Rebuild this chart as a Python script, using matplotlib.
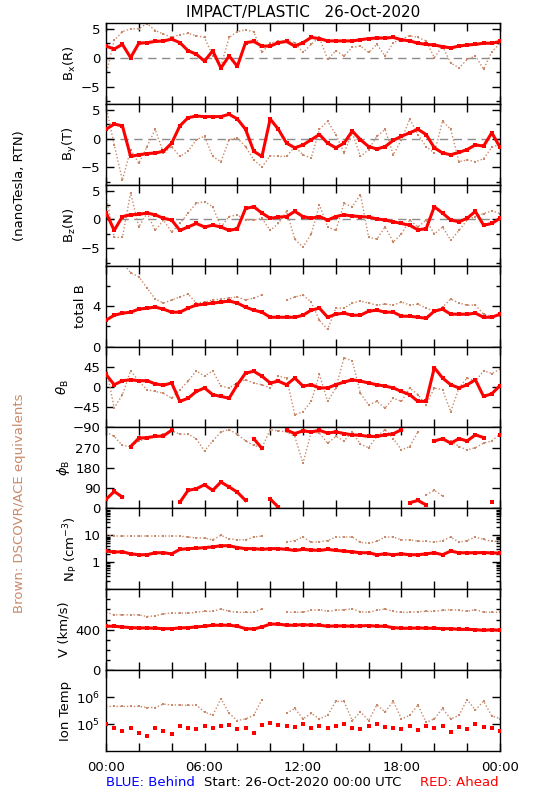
import numpy as np
import matplotlib
matplotlib.use('Agg')
import matplotlib.pyplot as plt
from matplotlib.ticker import MultipleLocator, FixedLocator, NullFormatter, LogLocator

nan = np.nan

# time axis: hours after 26-Oct-2020 00:00 UTC, 30 min steps
hours = np.arange(49) * 0.5

# RED = STEREO Ahead, BROWN = DSCOVR/ACE equivalents
bx_red = [2.0, 1.5, 2.3, 0.0, 2.5, 2.6, 2.8, 2.9, 3.2, 2.6, 1.2, 0.6, -0.6, 1.2, -1.8, 0.3, -1.5, 2.6, 2.8, 2.0, 2.0, 2.6, 2.8,
          2.0, 2.6, 3.5, 3.3, 2.9, 2.9, 2.9, 2.9, 3.1, 3.3, 3.4, 3.4, 3.5, 3.1, 2.9, 2.5, 2.3, 2.2, 1.9, 1.7, 2.0, 2.2, 2.3, 2.5, 2.5, 2.8]
bx_brown = [-3.0, 3.0, 4.5, 5.0, 5.0, 5.9, 4.7, 4.1, 3.5, 4.0, 4.2, 3.8, 3.5, 0.3, -1.5, 3.5, 4.5, 4.8, 4.5, 0.9, 2.5, 2.8, 3.0,
            2.6, 0.9, 2.3, 3.5, -0.3, 1.2, 0.3, 1.8, 2.0, 0.9, 2.3, 0.3, 2.6, 3.2, 3.8, 3.5, 2.9, 0.0, 2.0, -0.9, -1.8, -0.3, 0.3, -2.0, 1.0, 2.5]

by_red = [1.6, 2.5, 2.2, -3.1, -2.8, -2.6, -2.5, -2.2, -0.8, 2.2, 3.6, 3.9, 3.8, 3.8, 3.8, 4.2, 3.4, 1.6, -2.2, -3.1, 3.4, 1.6, -0.8,
          -1.6, -1.1, -0.2, 0.7, -0.8, -1.6, -0.8, 1.3, -0.2, -1.4, -1.8, -1.4, -0.3, 0.4, 1.0, 1.6, 0.7, -1.6, -2.5, -2.8, -2.4, -1.9, -1.1, -1.3, 1.0, -1.5]
by_brown = [5.6, -1.1, -7.2, -1.9, -4.3, -1.4, 1.6, -2.5, -1.4, -3.1, -2.2, -0.2, 0.4, -3.1, -4.0, -0.2, 0.1, -1.4, -3.7, -4.9, -3.0, -3.1, -3.1,
            -1.4, -2.8, -3.4, 1.6, 3.0, 0.7, -2.5, 1.0, -3.1, -1.9, 0.4, 1.6, -2.8, -0.2, 3.4, 0.7, -1.4, -2.5, 3.0, 1.6, -4.0, -3.7, -4.0, -3.5, -1.5, -1.0]

bz_red = [1.2, -1.9, 0.5, 0.8, 0.9, 1.1, 0.8, 0.2, -0.1, -1.9, -1.3, -0.7, -1.3, -1.0, -1.3, -1.9, -1.6, 1.9, 2.2, 1.1, 0.2, 0.4, 0.5,
          1.4, 0.5, 0.2, 0.5, -0.1, 0.5, 0.8, 0.6, 0.5, 0.4, 0.1, -0.1, -0.4, -0.7, -1.0, -1.8, -1.6, 2.2, 1.1, -0.1, -0.4, 0.2, 1.4, -1.0, -0.7, 0.2]
bz_brown = [4.0, -3.1, -3.1, 4.6, -1.3, 1.1, -1.9, -0.1, -2.2, -0.7, 1.1, 2.8, 3.1, 2.2, -1.3, 0.5, 0.8, -0.1, -0.1, 0.2, -1.9, -0.7, 1.4,
            -3.4, -4.8, -2.5, 2.5, -1.3, -1.9, 2.8, 2.2, 4.3, -3.1, -3.4, -1.3, -3.9, -2.5, -0.1, -1.3, -0.1, -2.5, -1.3, -3.6, -1.9, -0.1, 0.5, 1.0, 1.5, 1.0]

bt_red = [2.6, 3.1, 3.3, 3.4, 3.7, 3.8, 3.9, 3.7, 3.4, 3.4, 3.8, 4.1, 4.2, 4.3, 4.4, 4.5, 4.3, 3.9, 3.6, 3.4, 2.9, 2.9, 2.9,
          2.9, 3.1, 3.6, 3.8, 2.9, 3.2, 3.3, 3.1, 3.1, 3.5, 3.6, 3.4, 3.4, 3.0, 3.0, 2.9, 2.8, 3.5, 3.7, 3.2, 3.2, 3.2, 3.3, 2.9, 2.9, 3.2]
bt_brown = [7.8, 8.1, 8.3, 7.3, 6.9, 5.8, 4.7, 4.3, 4.6, 4.9, 5.2, 4.3, 4.4, 4.6, 4.7, 4.8, 4.9, 4.6, 4.8, 5.1, nan, nan, 4.6,
            4.9, 5.1, 4.4, 2.6, 1.7, 3.8, 3.8, 4.3, 4.5, 4.3, 4.1, 4.2, 4.1, 4.4, 4.1, 4.2, 3.8, 3.5, 3.9, 4.7, 4.3, 4.1, 4.1, 3.2, 3.0, 3.0]

theta_red = [28, 5, 14, 16, 14, 14, 7, 4, 9, -32, -25, -10, -2, -17, -21, -25, 5, 31, 35, 24, 9, 13, 5,
             20, 2, 5, -2, -2, 5, 11, 16, 13, 9, 5, 2, -2, -10, -17, -32, -32, 43, 20, 5, -2, 5, 16, -21, -15, 3]
theta_brown = [45, -47, -17, 36, 13, -6, -10, -14, -25, -6, 13, 36, 24, 36, 2, -2, 9, 16, 9, 5, -2, 24, 20,
               -62, -55, -32, 28, -32, -2, 65, 58, -14, -40, -32, -47, -25, -32, -2, -17, -40, -2, -6, -55, -2, 20, 13, 36, 30, 40]

phi_red = [40, 75, 50, 275, 312, 315, 320, 322, 348, 27, 80, 87, 105, 80, 117, 95, 72, 35, 310, 267, 42, 5, 348,
           333, 345, 340, 347, 335, 340, 333, 327, 325, 320, 320, 327, 332, 350, 25, 35, 15, 300, 310, 290, 310, 300, 327, 315, 27, 327]
phi_brown = [340, 320, 280, 275, 300, 310, 320, 330, 345, 330, 330, 310, 255, 300, 340, 350, 330, 300, 280, 270, 350, 345, 340,
             320, 200, 340, 335, 290, 320, 300, 340, 285, 270, 320, 350, 310, 260, 275, 340, 60, 80, 55, 300, 275, 260, 270, 290, 300, 330]

np_red = [2.6, 2.4, 2.45, 2.05, 1.9, 1.9, 2.25, 2.25, 2.05, 3.0, 3.2, 3.3, 3.5, 3.7, 4.1, 4.1, 3.5, 3.2, 3.2, 3.0, 3.2, 3.2, 3.0,
          2.75, 3.0, 2.85, 2.75, 3.0, 2.75, 2.6, 2.45, 2.25, 2.25, 1.9, 2.05, 1.9, 2.05, 1.9, 1.9, 2.05, 2.25, 1.9, 2.6, 2.25, 2.25, 2.25, 2.3, 2.2, 2.2]
np_brown = [10, 9.4, 9.4, 9.4, 9.4, 9.4, 9.4, 9.4, 9.4, 9.4, 8.6, 8.1, 7.9, 6.8, 10, 7.4, 6.8, 6.8, 8.6, 9.4, nan, nan, 5.5,
            6.4, 8.6, 5.5, 5.8, 6.4, 8.6, 8.6, 8.6, 5.5, 5.0, 6.0, 8.6, 8.6, 6.8, 6.8, 6.0, 6.0, 5.5, 6.4, 8.6, 5.5, 6.4, 8.6, 7.0, 6.0, 6.0]

v_red = [434, 434, 427, 420, 417, 417, 414, 410, 410, 417, 420, 427, 434, 444, 444, 444, 434, 410, 407, 427, 455, 455, 444,
         444, 450, 444, 444, 434, 437, 437, 434, 437, 441, 434, 434, 420, 414, 414, 417, 414, 414, 410, 410, 403, 403, 400, 393, 400, 393]
v_brown = [571, 547, 547, 547, 547, 530, 537, 557, 564, 564, 564, 571, 581, 581, 605, 581, 571, 571, 571, 605, nan, nan, 571,
           571, 574, 591, 598, 581, 591, 598, 605, 578, 571, 591, 605, 581, 571, 571, 578, 581, 581, 591, 598, 591, 581, 598, 574, 571, 571]

t_red = [1.0e5, 7.4e4, 5.5e4, 7.4e4, 4.8e4, 3.5e4, 7.4e4, 5.5e4, 4.1e4, 8.7e4, 7.4e4, 6.5e4, 8.7e4, 7.4e4, 8.7e4, 9.1e4, 6.5e4, 7.4e4, 4.8e4, 8.9e4, 1.1e5, 9.1e4, 8.7e4,
         8.1e4, 1.0e5, 7.4e4, 8.7e4, 7.4e4, 8.7e4, 1.0e5, 7.4e4, 6.8e4, 8.7e4, 1.0e5, 8.1e4, 7.4e4, 6.5e4, 8.7e4, 6.0e4, 8.7e4, 7.4e4, 8.7e4, 5.0e4, 8.1e4, 6.8e4, 1.0e5, 7.9e4, 7.1e4, 5.6e4]
t_brown = [4.5e5, 4.5e5, 4.5e5, 4.5e5, 4.5e5, 4.1e5, 4.1e5, 5.5e5, 5.1e5, 5.1e5, 4.9e5, 5.1e5, 2.8e5, 2.1e5, 8.7e5, 2.5e5, 1.35e5, 1.55e5, 2.1e5, 8.1e5, nan, nan, 2.5e5,
           3.8e5, 1.55e5, 2.5e5, 1.55e5, 2.1e5, 6.9e5, 6.9e5, 1.35e5, 2.8e5, 1.35e5, 5.1e5, 2.8e5, 6.9e5, 1.55e5, 2.1e5, 5.1e5, 1.15e5, 1.55e5, 3.8e5, 1.55e5, 2.1e5, 8.1e5, 3.3e5, 7.1e5, 2.0e5, 1.6e5]

xtick_labels = ['00:00', '06:00', '12:00', '18:00', '00:00']

RED = '#ff0000'
BROWN = '#c98a6b'
FS = 9.5

plt.rcParams['font.family'] = ['DejaVu Sans']
plt.rcParams['font.size'] = FS


def break_wrap(x, y):
    # do not connect points across the 360 -> 0 wrap
    xs, ys = [x[0]], [y[0]]
    for i in range(1, len(x)):
        if abs(y[i] - y[i - 1]) > 180:
            xs.append(nan)
            ys.append(nan)
        xs.append(x[i])
        ys.append(y[i])
    return xs, ys


fig = plt.figure(figsize=(5.5, 8), dpi=100)
W, H = 550.0, 800.0
x0, x1 = 106 / W, 500 / W
y_top, y_bot = 23.0, 751.0
ph = (y_bot - y_top) / 9

axes = []
for i in range(9):
    b = 1 - (y_top + (i + 1) * ph) / H
    ax = fig.add_axes([x0, b, x1 - x0, ph / H])
    axes.append(ax)

series = [(bx_brown, bx_red), (by_brown, by_red), (bz_brown, bz_red), (bt_brown, bt_red),
          (theta_brown, theta_red), (phi_brown, phi_red), (np_brown, np_red), (v_brown, v_red), (t_brown, t_red)]

for i, (ax, (yb, yr)) in enumerate(zip(axes, series)):
    if i == 5:
        xb, yb2 = break_wrap(list(hours), yb)
        xr, yr2 = break_wrap(list(hours), yr)
    else:
        xb, yb2, xr, yr2 = hours, yb, hours, yr
    ax.plot(xb, yb2, color=BROWN, lw=1.0, ls=(0, (1, 1.5)), marker='s', ms=1.6, mew=0, zorder=2)
    if i == 8:
        ax.plot(xr, yr2, color=RED, ls='none', marker='s', ms=3, mew=0, zorder=3)
    else:
        ax.plot(xr, yr2, color=RED, lw=2.2, marker='s', ms=2.4, mew=0, zorder=3)
    if i < 3:
        ax.axhline(0, color='#8c8c8c', lw=1, dashes=(6, 4), zorder=1)

    ax.set_xlim(0, 24)
    ax.xaxis.set_major_locator(MultipleLocator(6))
    ax.xaxis.set_minor_locator(MultipleLocator(2))
    ax.tick_params(which='both', direction='in', top=True, right=True, width=1, labelsize=FS, pad=4)
    ax.tick_params(which='major', length=6)
    ax.tick_params(which='minor', length=6, axis='x')
    ax.tick_params(which='minor', length=3, axis='y')
    for s in ax.spines.values():
        s.set_linewidth(1)
    if i < 8:
        ax.xaxis.set_major_formatter(NullFormatter())
    else:
        ax.set_xticks([0, 6, 12, 18, 24])
        ax.set_xticklabels(xtick_labels)
        ax.tick_params(axis='x', pad=7)

# field components
for ax in axes[:3]:
    ax.set_ylim(-8, 6)
    ax.yaxis.set_major_locator(FixedLocator([-5, 0, 5]))
    ax.yaxis.set_minor_locator(FixedLocator([-7.5, -2.5, 2.5]))
    ax.set_yticklabels(['\u22125', '0', '5'])

axes[3].set_ylim(0, 8)
axes[3].set_yticks([0, 4])
axes[3].yaxis.set_minor_locator(FixedLocator([2, 6]))

axes[4].set_ylim(-90, 90)
axes[4].set_yticks([-90, -45, 0, 45])
axes[4].set_yticklabels(['\u221290', '\u221245', '0', '45'])

axes[5].set_ylim(0, 360)
axes[5].set_yticks([0, 90, 180, 270])

axes[6].set_yscale('log')
axes[6].set_ylim(0.1, 100)
axes[6].yaxis.set_major_locator(FixedLocator([1, 10]))
axes[6].set_yticklabels(['1', '10'])
axes[6].yaxis.set_minor_locator(LogLocator(base=10, subs=np.arange(2, 10)))
axes[6].yaxis.set_minor_formatter(NullFormatter())

axes[7].set_ylim(0, 800)
axes[7].set_yticks([0, 400])
axes[7].yaxis.set_minor_locator(MultipleLocator(100))

axes[8].set_yscale('log')
axes[8].set_ylim(1e4, 1e7)
axes[8].yaxis.set_major_locator(FixedLocator([1e5, 1e6]))
axes[8].set_yticklabels([r'10$^5$', r'10$^6$'])
axes[8].yaxis.set_minor_locator(FixedLocator([]))

# panel labels (rotated), x positions in pixels
ylabels = [r'B$_{\mathrm{x}}$(R)', r'B$_{\mathrm{y}}$(T)', r'B$_{\mathrm{z}}$(N)', 'total B',
           r'$\theta_{\mathrm{B}}$', r'$\phi_{\mathrm{B}}$', r'N$_{\mathrm{P}}$ (cm$^{-3}$)', 'V (km/s)', 'Ion Temp']
label_x = [70, 70, 70, 80, 63, 63, 71, 64, 65]
for i, (lab, lx) in enumerate(zip(ylabels, label_x)):
    yc = y_top + (i + 0.5) * ph
    fig.text(lx / W, 1 - yc / H, lab, rotation=90, ha='center', va='center', fontsize=FS)

fig.text(20 / W, 1 - 186 / H, '(nanoTesla, RTN)', rotation=90, ha='center', va='center', fontsize=FS)
fig.text(20 / W, 1 - 503 / H, 'Brown: DSCOVR/ACE equivalents', rotation=90, ha='center', va='center',
         fontsize=FS, color=BROWN)

fig.text(303 / W, 1 - 12 / H, 'IMPACT/PLASTIC   26-Oct-2020', ha='center', va='center', fontsize=11)
fig.text(106 / W, 1 - 782 / H, 'BLUE: Behind', ha='left', va='center', fontsize=FS, color='#0000ff')
fig.text(303 / W, 1 - 782 / H, 'Start: 26-Oct-2020 00:00 UTC', ha='center', va='center', fontsize=FS)
fig.text(499 / W, 1 - 782 / H, 'RED: Ahead', ha='right', va='center', fontsize=FS, color=RED)

fig.savefig('out.png', dpi=100, facecolor='white')
